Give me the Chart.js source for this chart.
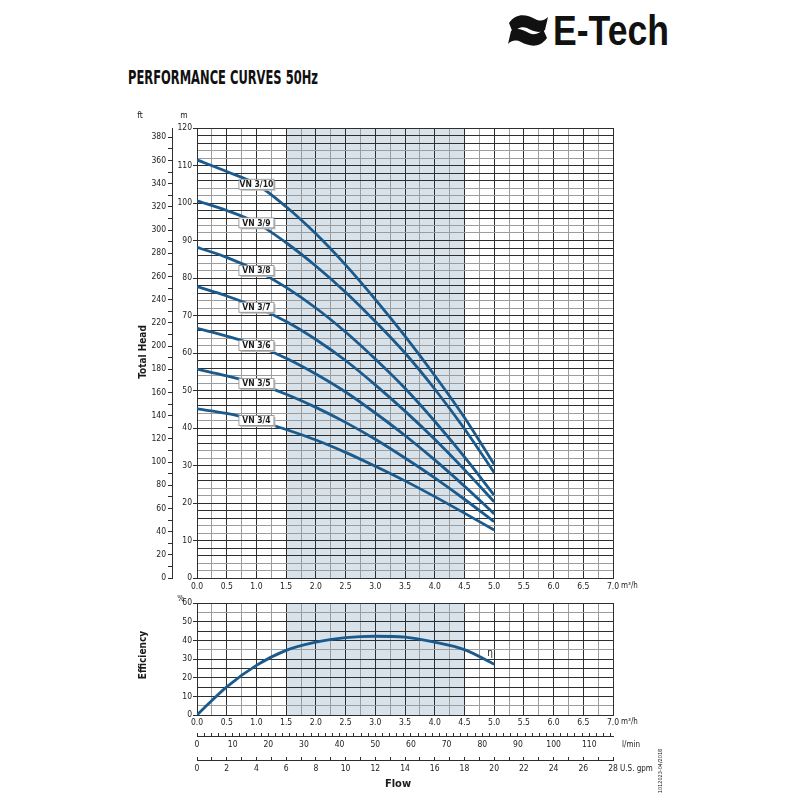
<!DOCTYPE html>
<html>
<head>
<meta charset="utf-8">
<title>Performance curves 50Hz</title>
<script src="https://cdn.jsdelivr.net/npm/chart.js@4.4.1/dist/chart.umd.min.js"></script>
<style>
	body { margin: 0; background: #fff; }
	#page { position: relative; width: 800px; height: 800px; overflow: hidden; background: #fff; }
	#top { position: absolute; left: 0; top: 0; }
	#head { position: absolute; left: 0; top: 0; }
	#eff { position: absolute; left: 0; top: 595px; }
</style>
</head>
<body>
<div id="page">
	<svg id="top" width="800" height="100" xmlns="http://www.w3.org/2000/svg">
		<path d="M509,23 C517,12 527,15 535,19 C541,22 545,20 548,17 L545,30 C539,34 533,31 527,28 C521,26 516,29 513,33 Z" fill="#111"/>
		<path d="M547,38 C539,49 529,46 521,42 C515,39 511,41 508,44 L511,31 C517,27 523,30 529,33 C535,36 540,33 543,29 Z" fill="#111"/>
		<text x="553" y="45" font-family="Liberation Sans, Arial, sans-serif" font-weight="bold" font-size="43" textLength="116" lengthAdjust="spacingAndGlyphs" fill="#111">E-Tech</text>
		<text x="128" y="84" font-family="Liberation Sans Narrow, DejaVu Sans Condensed, sans-serif" font-weight="bold" font-size="19" textLength="190" lengthAdjust="spacingAndGlyphs" fill="#111">PERFORMANCE CURVES 50Hz</text>
	</svg>
	<canvas id="head" width="800" height="595" style="width:800px;height:595px"></canvas>
	<canvas id="eff" width="800" height="205" style="width:800px;height:205px"></canvas>
</div>
<script>
// flow points (m3/h) and heads (m)
const flow = [0, 0.5, 1, 1.5, 2, 2.5, 3, 3.5, 4, 4.5, 5];
const models = ['VN 3/4', 'VN 3/5', 'VN 3/6', 'VN 3/7', 'VN 3/8', 'VN 3/9', 'VN 3/10'];
const head34 = [45.1, 43.9, 42.0, 39.6, 36.8, 33.5, 29.8, 25.9, 21.7, 17.3, 12.8];
const head35 = [55.7, 53.9, 51.9, 49.0, 45.5, 41.5, 37.0, 32.0, 26.7, 21.0, 15.0];
const head36 = [66.6, 64.5, 62.0, 58.6, 54.4, 49.6, 44.0, 38.0, 31.5, 24.5, 17.1];
const head37 = [77.7, 75.2, 72.2, 68.4, 63.6, 58.0, 51.5, 44.5, 37.0, 28.9, 20.3];
const head38 = [88.2, 85.5, 82.0, 77.5, 72.0, 65.6, 58.4, 50.6, 41.8, 32.3, 22.1];
const head39 = [100.6, 98.0, 94.7, 89.4, 83.2, 76.2, 68.4, 60.0, 50.4, 39.8, 28.1];
const head310 = [111.5, 108.4, 105.0, 99.0, 91.8, 83.5, 74.3, 64.5, 54.0, 42.8, 30.3];
const efficiency = [0, 15.1, 26.6, 34.6, 39.0, 41.4, 42.2, 41.7, 39.0, 35.0, 27.2];

// tick labels
const flowTicks = [0, 0.5, 1, 1.5, 2, 2.5, 3, 3.5, 4, 4.5, 5, 5.5, 6, 6.5, 7];
const headTicks = [0, 10, 20, 30, 40, 50, 60, 70, 80, 90, 100, 110, 120];
const ftTicks = [0, 20, 40, 60, 80, 100, 120, 140, 160, 180, 200, 220, 240, 260, 280, 300, 320, 340, 360, 380];
const effTicks = [0, 10, 20, 30, 40, 50, 60];
const lminTicks = [0, 10, 20, 30, 40, 50, 60, 70, 80, 90, 100, 110];
const gpmTicks = [0, 2, 4, 6, 8, 10, 12, 14, 16, 18, 20, 22, 24, 26, 28];
const bandRange = [1.5, 4.5];
const labelFlow = 1;

const headSeries = [head34, head35, head36, head37, head38, head39, head310];

const FONT = '"Liberation Sans Narrow", "DejaVu Sans Condensed", "Arial Narrow", sans-serif';
const DARK = '#2e2e2e';
const GREY = '#9c9c9c';
const BLUE = '#1b5a8d';
const BAND = '#d8e2eb';

Chart.defaults.font.family = FONT;
Chart.defaults.font.size = 8.5;
Chart.defaults.color = '#222';

const range = (a, b, s) => {
	let out = [];
	for (let v = a; v <= b + 1e-9; v += s) out.push(Math.round(v * 1000) / 1000);
	return out;
};
const setTicks = (values) => (s) => { s.ticks = values.map(v => ({ value: v })); };
const has = (list, v) => list.some(t => Math.abs(t - v) < 1e-6);

const gridX = (c) => {
	if (!c.tick) return DARK;
	let v = c.tick.value * 4;
	return Math.round(v) % 2 === 1 ? GREY : DARK;
};
const gridHead = (c) => {
	if (!c.tick) return DARK;
	let m = Math.round(c.tick.value) % 10;
	return (m === 2 || m === 4) ? GREY : DARK;
};
const gridEff = (c) => {
	if (!c.tick) return DARK;
	let v = Math.round(c.tick.value);
	return (v === 5 || v === 35 || v === 55) ? GREY : DARK;
};

const text = (ctx, str, x, y, font, align, rot) => {
	ctx.save();
	ctx.font = font;
	ctx.fillStyle = '#1a1a1a';
	ctx.textAlign = align || 'left';
	ctx.textBaseline = 'middle';
	ctx.translate(x, y);
	if (rot) ctx.rotate(rot);
	ctx.fillText(str, 0, 0);
	ctx.restore();
};

const band = {
	id: 'band',
	beforeDraw(chart) {
		const { ctx, chartArea, scales: { x } } = chart;
		let x1 = x.getPixelForValue(bandRange[0]);
		let x2 = x.getPixelForValue(bandRange[1]);
		ctx.save();
		ctx.fillStyle = BAND;
		ctx.fillRect(x1, chartArea.top, x2 - x1, chartArea.bottom - chartArea.top);
		ctx.restore();
	}
};

const headDecor = {
	id: 'headDecor',
	afterDatasetsDraw(chart) {
		const { ctx, scales: { x, y } } = chart;
		let j = flow.indexOf(labelFlow);
		models.forEach((name, i) => {
			let cx = x.getPixelForValue(labelFlow);
			let cy = y.getPixelForValue(headSeries[i][j]);
			let w = 35, h = 10;
			ctx.save();
			ctx.fillStyle = '#bdbdbd';
			ctx.fillRect(cx - w / 2 + 1.5, cy - h / 2 + 1.5, w, h);
			ctx.fillStyle = '#fff';
			ctx.fillRect(cx - w / 2, cy - h / 2, w, h);
			ctx.strokeStyle = '#8a8a8a';
			ctx.lineWidth = 0.8;
			ctx.strokeRect(cx - w / 2, cy - h / 2, w, h);
			ctx.restore();
			text(ctx, name, cx, cy + 0.5, 'bold 8.5px ' + FONT, 'center');
		});
	},
	afterDraw(chart) {
		const { ctx } = chart;
		text(ctx, 'ft', 140, 116, '8.5px ' + FONT, 'center');
		text(ctx, 'm', 184, 116, '8.5px ' + FONT, 'center');
		text(ctx, 'Total Head', 143, 352, 'bold 10px ' + FONT, 'center', -Math.PI / 2);
		text(ctx, 'm³/h', 621, 586, '8px ' + FONT, 'left');
	}
};

const effDecor = {
	id: 'effDecor',
	afterDatasetsDraw(chart) {
		const { ctx, scales: { x, y } } = chart;
		let n = flow.length - 1;
		text(ctx, 'η', x.getPixelForValue(flow[n]) - 4, y.getPixelForValue(efficiency[n]) - 11, '10px ' + FONT, 'center');
	},
	afterDraw(chart) {
		const { ctx } = chart;
		text(ctx, '%', 181, 4, '8.5px ' + FONT, 'center');
		text(ctx, 'Efficiency', 143, 60, 'bold 10px ' + FONT, 'center', -Math.PI / 2);
		text(ctx, 'm³/h', 621, 127, '8px ' + FONT, 'left');
		text(ctx, 'l/min', 622, 150, '8px ' + FONT, 'left');
		text(ctx, 'U.S. gpm', 620, 174, '8px ' + FONT, 'left');
		text(ctx, 'Flow', 398, 189, 'bold 11px ' + FONT, 'center');
		text(ctx, '1012023-04/2018', 661, 176, '5.5px ' + FONT, 'center', -Math.PI / 2);
	}
};

new Chart(document.getElementById('head'), {
	type: 'line',
	data: {
		datasets: models.map((name, i) => ({
			label: name,
			data: flow.map((q, j) => ({ x: q, y: headSeries[i][j] })),
			borderColor: BLUE,
			borderWidth: 2.8,
			pointRadius: 0,
			cubicInterpolationMode: 'monotone',
			fill: false
		}))
	},
	options: {
		responsive: false,
		animation: false,
		layout: { padding: { left: 100, right: 187, top: 128, bottom: 3 } },
		plugins: { legend: { display: false }, tooltip: { enabled: false } },
		scales: {
			x: {
				type: 'linear', min: 0, max: 7,
				border: { color: DARK },
				grid: { color: gridX, drawTicks: false },
				ticks: { autoSkip: false, maxRotation: 0, padding: 4, callback: v => has(flowTicks, v) ? v.toFixed(1) : '' },
				afterBuildTicks: setTicks(range(0, 7, 0.25)),
				afterFit: s => { s.height = 14; }
			},
			y: {
				type: 'linear', min: 0, max: 120, weight: 0,
				border: { color: DARK },
				grid: { color: gridHead, tickLength: 4, tickColor: c => c.tick && has(headTicks, c.tick.value) ? DARK : 'rgba(0,0,0,0)' },
				ticks: { autoSkip: false, padding: 1, callback: v => has(headTicks, v) ? v : '' },
				afterBuildTicks: setTicks(range(0, 120, 2)),
				afterFit: s => { s.width = 25; }
			},
			ft: {
				type: 'linear', position: 'left', min: 0, max: 388, weight: 1,
				border: { color: DARK },
				grid: { drawOnChartArea: false, tickLength: 4, color: DARK },
				ticks: { autoSkip: false, padding: 2, callback: v => has(ftTicks, v) ? v : '' },
				afterBuildTicks: setTicks(range(0, 380, 10)),
				afterFit: s => { s.width = 72; }
			}
		}
	},
	plugins: [band, headDecor]
});

new Chart(document.getElementById('eff'), {
	type: 'line',
	data: {
		datasets: [{
			label: 'η',
			data: flow.map((q, j) => ({ x: q, y: efficiency[j] })),
			borderColor: BLUE,
			borderWidth: 2.8,
			pointRadius: 0,
			cubicInterpolationMode: 'monotone',
			fill: false
		}]
	},
	options: {
		responsive: false,
		animation: false,
		layout: { padding: { left: 172, right: 187, top: 8, bottom: 25 } },
		plugins: { legend: { display: false }, tooltip: { enabled: false } },
		scales: {
			x: {
				type: 'linear', min: 0, max: 7, weight: 0,
				border: { color: DARK },
				grid: { color: gridX, drawTicks: false },
				ticks: { autoSkip: false, maxRotation: 0, padding: 3, callback: v => has(flowTicks, v) ? v.toFixed(1) : '' },
				afterBuildTicks: setTicks(range(0, 7, 0.25)),
				afterFit: s => { s.height = 21; }
			},
			lmin: {
				type: 'linear', position: 'bottom', min: 0, max: 116.67, weight: 1,
				border: { color: DARK },
				grid: { drawOnChartArea: false, tickLength: -3, color: DARK },
				ticks: { autoSkip: false, maxRotation: 0, padding: 7, callback: v => has(lminTicks, v) ? v : '' },
				afterBuildTicks: setTicks(range(0, 116, 2)),
				afterFit: s => { s.height = 24; }
			},
			gpm: {
				type: 'linear', position: 'bottom', min: 0, max: 28, weight: 2,
				border: { color: DARK },
				grid: { drawOnChartArea: false, tickLength: -3, color: DARK },
				ticks: { autoSkip: false, maxRotation: 0, padding: 7, callback: v => has(gpmTicks, v) ? v : '' },
				afterBuildTicks: setTicks(range(0, 28, 1)),
				afterFit: s => { s.height = 15; }
			},
			y: {
				type: 'linear', min: 0, max: 60,
				border: { color: DARK },
				grid: { color: gridEff, tickLength: 4, tickColor: c => c.tick && has(effTicks, c.tick.value) ? DARK : 'rgba(0,0,0,0)' },
				ticks: { autoSkip: false, padding: 1, callback: v => has(effTicks, v) ? v : '' },
				afterBuildTicks: setTicks(range(0, 60, 5)),
				afterFit: s => { s.width = 25; }
			}
		}
	},
	plugins: [band, effDecor]
});
</script>
</body>
</html>
